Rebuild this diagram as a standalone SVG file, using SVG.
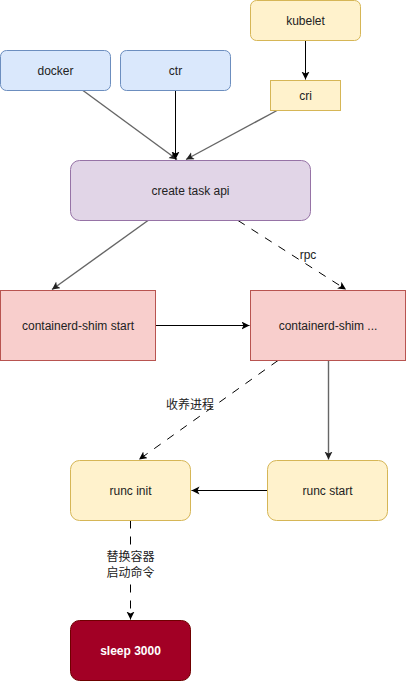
<svg xmlns="http://www.w3.org/2000/svg" width="406" height="681" viewBox="0 0 406 681">
<style>
text{font-family:"Liberation Sans",Arial,"Noto Sans CJK SC",sans-serif;font-size:12px;fill:#222;text-anchor:middle;dominant-baseline:central}
.yel{fill:#fff2cc;stroke:#d6b656}
.blu{fill:#dae8fc;stroke:#6c8ebf}
.pur{fill:#e1d5e7;stroke:#9673a6}
.red{fill:#f8cecc;stroke:#b85450}
.dark{fill:#a20025;stroke:#6f0000}
.e{fill:none;stroke:#000;stroke-width:1}
.g{stroke:#666;stroke-width:1.4}
.d{stroke-dasharray:8 8}
.w{fill:#fff;font-weight:bold}
</style>
<defs>
<marker id="ab" markerUnits="userSpaceOnUse" markerWidth="10" markerHeight="10" refX="8" refY="4" orient="auto">
<path d="M0,0 L8,4 L0,8 L2,4 z" fill="#000"/>
</marker>
<marker id="ag" markerUnits="userSpaceOnUse" markerWidth="10" markerHeight="10" refX="8" refY="4" orient="auto">
<path d="M0,0 L8,4 L0,8 L2,4 z" fill="#222"/>
</marker>
</defs>
<g id="edges">
<path class="e g" d="M83,90.5 L177,159.5" marker-end="url(#ag)"/>
<path class="e" d="M175.5,90.5 L175.5,159.5" marker-end="url(#ab)"/>
<path class="e g" d="M277,110.5 L186,159.5" marker-end="url(#ag)"/>
<path class="e" d="M305.5,40.5 L305.5,79.5" marker-end="url(#ab)"/>
<path class="e g" d="M148,220.5 L52,289.5" marker-end="url(#ag)"/>
<path class="e d" d="M238,220.5 L346,289.5" marker-end="url(#ab)"/>
<text x="308" y="255">rpc</text>
<path class="e" d="M155.5,325.5 L249.5,325.5" marker-end="url(#ab)"/>
<path class="e d" d="M278,360.5 L139,459.5" marker-end="url(#ab)"/>
<text x="190" y="405">收养进程</text>
<path class="e g" d="M328.5,360.5 L328.5,459.5" marker-end="url(#ag)"/>
<path class="e" d="M267.5,490.5 L191.5,490.5" marker-end="url(#ab)"/>
<path class="e d" d="M130.5,520.5 L130.5,619.5" marker-end="url(#ab)"/>
<rect x="100" y="549" width="62" height="32" fill="#fff"/>
<text x="130.5" y="557">替换容器</text>
<text x="130.5" y="573">启动命令</text>
</g>
<g id="kubelet"><rect class="yel" x="250.5" y="0.5" width="110" height="40" rx="6"/><text x="305.5" y="20.5">kubelet</text></g>
<g id="docker"><rect class="blu" x="0.5" y="50.5" width="110" height="40" rx="6"/><text x="55.5" y="70.5">docker</text></g>
<g id="ctr"><rect class="blu" x="120.5" y="50.5" width="110" height="40" rx="6"/><text x="175.5" y="70.5">ctr</text></g>
<g id="cri"><rect class="yel" x="270.5" y="80.5" width="70" height="30"/><text x="305.5" y="95.5">cri</text></g>
<g id="create-task-api"><rect class="pur" x="70.5" y="160.5" width="240" height="60" rx="9"/><text x="190.5" y="190.5">create task api</text></g>
<g id="shim-start"><rect class="red" x="0.5" y="290.5" width="155" height="70"/><text x="78" y="325.5">containerd-shim start</text></g>
<g id="shim"><rect class="red" x="250.5" y="290.5" width="155" height="70"/><text x="328" y="325.5">containerd-shim ...</text></g>
<g id="runc-init"><rect class="yel" x="70.5" y="460.5" width="120" height="60" rx="9"/><text x="130.5" y="490.5">runc init</text></g>
<g id="runc-start"><rect class="yel" x="267.5" y="460.5" width="120" height="60" rx="9"/><text x="327.5" y="490.5">runc start</text></g>
<g id="sleep"><rect class="dark" x="70.5" y="620.5" width="120" height="60" rx="9"/><text class="w" x="130.5" y="650.5">sleep 3000</text></g>
</svg>
